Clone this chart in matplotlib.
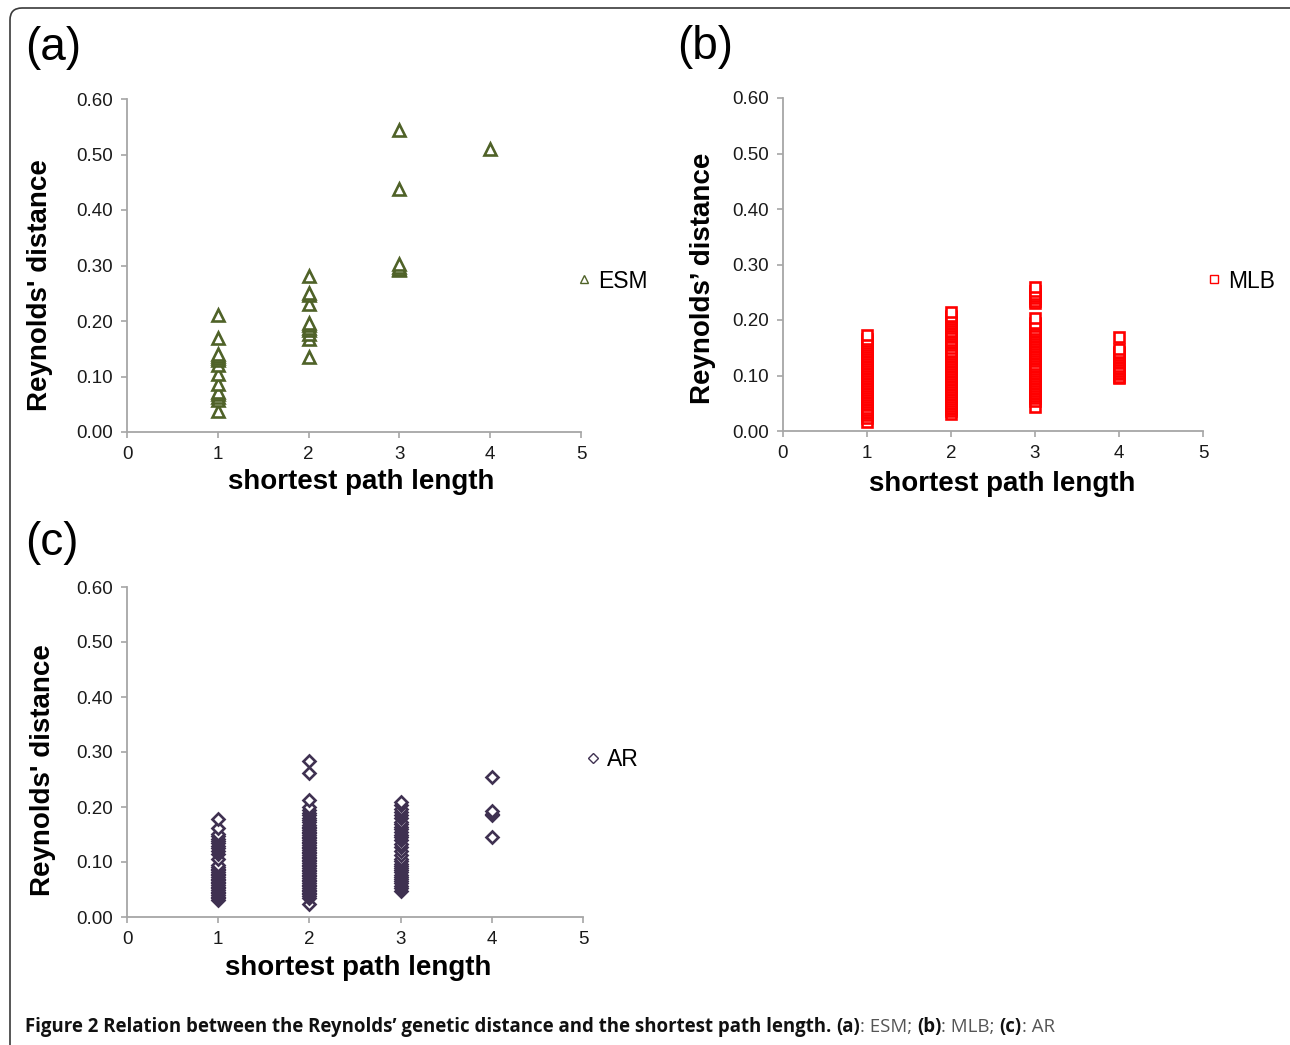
import matplotlib
matplotlib.use('Agg')
import matplotlib.pyplot as plt
from matplotlib.lines import Line2D
from matplotlib.patches import FancyBboxPatch
from matplotlib.transforms import IdentityTransform

plt.rcParams['font.family'] = ['Liberation Sans', 'DejaVu Sans']

''' data read off the figure '''

path_lengths = [1, 2, 3, 4]

# (a) ESM
esm_1 = [0.038, 0.057, 0.063, 0.068, 0.072, 0.087, 0.105, 0.120, 0.130, 0.133,
         0.137, 0.140, 0.170, 0.210]
esm_2 = [0.136, 0.167, 0.176, 0.184, 0.188, 0.192, 0.197, 0.230, 0.246, 0.251,
         0.281]
esm_3 = [0.291, 0.294, 0.298, 0.302, 0.438, 0.545]
esm_4 = [0.510]

# (b) MLB
mlb_1 = [0.017, 0.024, 0.029, 0.032, 0.035, 0.038, 0.041, 0.046, 0.049, 0.052,
         0.055, 0.058, 0.062, 0.065, 0.068, 0.071, 0.074, 0.078, 0.081, 0.084,
         0.087, 0.090, 0.093, 0.096, 0.099, 0.102, 0.105, 0.108, 0.111, 0.114,
         0.117, 0.120, 0.123, 0.126, 0.130, 0.133, 0.136, 0.139, 0.142, 0.145,
         0.148, 0.152, 0.155, 0.159, 0.162, 0.165, 0.173]
mlb_2 = [0.030, 0.036, 0.039, 0.042, 0.045, 0.048, 0.051, 0.054, 0.058, 0.061,
         0.064, 0.067, 0.070, 0.073, 0.076, 0.079, 0.082, 0.085, 0.088, 0.091,
         0.094, 0.097, 0.100, 0.103, 0.106, 0.109, 0.112, 0.115, 0.118, 0.121,
         0.124, 0.127, 0.130, 0.133, 0.136, 0.139, 0.142, 0.145, 0.150, 0.155,
         0.158, 0.161, 0.164, 0.169, 0.172, 0.175, 0.178, 0.181, 0.186, 0.189,
         0.192, 0.195, 0.198, 0.201, 0.205, 0.208, 0.215]
mlb_3 = [0.044, 0.054, 0.060, 0.063, 0.066, 0.069, 0.072, 0.075, 0.078, 0.081,
         0.084, 0.087, 0.090, 0.093, 0.096, 0.099, 0.102, 0.105, 0.108, 0.111,
         0.115, 0.118, 0.121, 0.126, 0.129, 0.132, 0.135, 0.138, 0.141, 0.145,
         0.148, 0.151, 0.154, 0.157, 0.160, 0.163, 0.166, 0.169, 0.172, 0.175,
         0.178, 0.181, 0.184, 0.189, 0.192, 0.195, 0.203, 0.231, 0.235, 0.239,
         0.243, 0.247, 0.252, 0.259]
mlb_4 = [0.095, 0.098, 0.102, 0.105, 0.108, 0.111, 0.114, 0.117, 0.122, 0.125,
         0.128, 0.131, 0.134, 0.137, 0.140, 0.143, 0.148, 0.170]

# (c) AR
ar_1 = [0.031, 0.034, 0.037, 0.040, 0.043, 0.046, 0.049, 0.052, 0.055, 0.058,
        0.061, 0.064, 0.067, 0.070, 0.073, 0.076, 0.079, 0.082, 0.085, 0.088,
        0.091, 0.095, 0.106, 0.114, 0.120, 0.125, 0.130, 0.134, 0.138, 0.142,
        0.147, 0.151, 0.162, 0.178]
ar_2 = [0.023, 0.035, 0.038, 0.041, 0.044, 0.047, 0.050, 0.053, 0.056, 0.059,
        0.062, 0.065, 0.068, 0.071, 0.074, 0.077, 0.080, 0.083, 0.086, 0.089,
        0.092, 0.095, 0.098, 0.101, 0.104, 0.107, 0.110, 0.113, 0.116, 0.119,
        0.122, 0.125, 0.128, 0.131, 0.134, 0.137, 0.140, 0.143, 0.146, 0.149,
        0.152, 0.155, 0.158, 0.161, 0.164, 0.168, 0.172, 0.176, 0.180, 0.185,
        0.190, 0.195, 0.200, 0.213, 0.262, 0.284]
ar_3 = [0.047, 0.053, 0.057, 0.061, 0.065, 0.069, 0.073, 0.077, 0.081, 0.085,
        0.089, 0.093, 0.097, 0.101, 0.106, 0.112, 0.120, 0.127, 0.133, 0.140,
        0.146, 0.150, 0.155, 0.160, 0.164, 0.169, 0.173, 0.180, 0.185, 0.191,
        0.197, 0.203, 0.209]
ar_4 = [0.145, 0.185, 0.188, 0.192, 0.255]

y_ticks = [0.0, 0.1, 0.2, 0.3, 0.4, 0.5, 0.6]
y_ticklabels = ['0.00', '0.10', '0.20', '0.30', '0.40', '0.50', '0.60']
x_ticks = [0, 1, 2, 3, 4, 5]

W, H = 1290, 1045
fig = plt.figure(figsize=(W / 100, H / 100), dpi=100)


def px(x0, y0, x1, y1):
    '''pixel box (top-left origin) -> figure fraction rect'''
    return [x0 / W, 1 - y1 / H, (x1 - x0) / W, (y1 - y0) / H]


def panel(rect, groups, marker, color, ms):
    ax = fig.add_axes(rect)
    for x, vals in zip(path_lengths, groups):
        vals = sorted(vals)
        ax.plot([x] * len(vals), vals, ls='none', marker=marker, ms=ms,
                mfc='white', mec=color, mew=1.9, clip_on=False)
    ax.set_xlim(0, 5)
    ax.set_ylim(0, 0.6)
    ax.set_yticks(y_ticks)
    ax.set_yticklabels(y_ticklabels)
    ax.set_xticks(x_ticks)
    for s in ['top', 'right']:
        ax.spines[s].set_visible(False)
    for s in ['left', 'bottom']:
        ax.spines[s].set_color('#a6a6a6')
        ax.spines[s].set_linewidth(1.3)
    ax.tick_params(colors='#a6a6a6', labelcolor='#1a1a1a', labelsize=13.5,
                   length=4, width=1.2, direction='out')
    ax.tick_params(axis='y', pad=6)
    ax.tick_params(axis='x', pad=6)
    return ax


ax_a = panel(px(127, 99, 581, 432), [esm_1, esm_2, esm_3, esm_4],
             '^', '#4f6228', 8.6)
ax_b = panel(px(783, 98, 1203, 431), [mlb_1, mlb_2, mlb_3, mlb_4],
             's', '#ff0000', 7.3)
ax_c = panel(px(127, 587, 583, 917), [ar_1, ar_2, ar_3, ar_4],
             'D', '#3f3151', 6.3)

#panel letters
for lab, (x, y) in zip(['(a)', '(b)', '(c)'], [(25, 48), (677, 47), (25, 543)]):
    fig.text(x / W, 1 - y / H, lab, fontsize=33, ha='left', va='center')

#axis titles
for lab, (x, y) in [('Reynolds\' distance', (40, 285)),
                    ('Reynolds’ distance', (703, 278)),
                    ('Reynolds\' distance', (43, 770))]:
    fig.text(x / W, 1 - y / H, lab, rotation=90,
             fontsize=20, fontweight='bold', ha='center', va='center')
for x, y in [(361, 482), (1002, 484), (358, 968)]:
    fig.text(x / W, 1 - y / H, 'shortest path length',
             fontsize=20, fontweight='bold', ha='center', va='center')

#legends
for ax, mk, col, ms, name, (x, y) in [
        (ax_a, '^', '#4f6228', 5.5, 'ESM', (577, 281)),
        (ax_b, 's', '#ff0000', 6, 'MLB', (1207, 281)),
        (ax_c, 'D', '#3f3151', 4.8, 'AR', (586, 760))]:
    h = Line2D([], [], ls='none', marker=mk, ms=ms, mfc='white', mec=col,
               mew=1)
    ax.legend([h], [name], loc='center left', frameon=False,
              bbox_to_anchor=(x / W, 1 - y / H),
              bbox_transform=fig.transFigure, handlelength=0.6,
              handletextpad=0.3, borderpad=0, borderaxespad=0, fontsize=16.5)

#caption
cap_parts = [
    ('Figure 2 Relation between the Reynolds’ genetic distance and the '
     'shortest path length. ', 'bold', '#111111'),
    ('(a)', 'bold', '#111111'), (': ESM; ', 'normal', '#555555'),
    ('(b)', 'bold', '#111111'), (': MLB; ', 'normal', '#555555'),
    ('(c)', 'bold', '#111111'), (': AR', 'normal', '#555555'),
]
renderer = fig.canvas.get_renderer()
xpos = 25
for txt, wt, col in cap_parts:
    t = fig.text(xpos / W, 1 - 1027 / H, txt, fontsize=13.4, fontweight=wt,
                 color=col, ha='left', va='center',
                 family=['Open Sans', 'DejaVu Sans'])
    xpos += t.get_window_extent(renderer).width

#frame round the figure
frame = FancyBboxPatch((10, -20), 1300, H - 8 + 20,
                       boxstyle='round,pad=0,rounding_size=12',
                       fc='none', ec='#3a3a3a', lw=1.2,
                       transform=IdentityTransform())
fig.patches.append(frame)

plt.savefig('out.png', dpi=100)
